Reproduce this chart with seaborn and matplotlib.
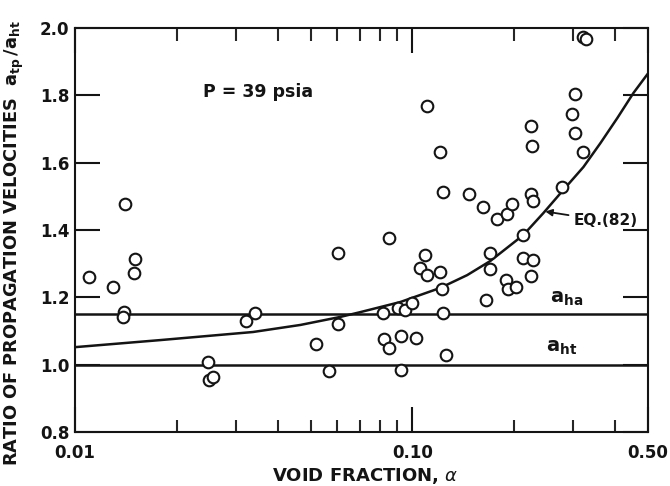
import numpy as np
import pandas as pd
import matplotlib
matplotlib.use("Agg")
import matplotlib.pyplot as plt
from matplotlib.ticker import FixedLocator, FixedFormatter, NullFormatter
import seaborn as sns

# Measured propagation-velocity ratios, P = 39 psia
void_fraction = [
    0.0110, 0.0130, 0.0140, 0.0139, 0.0141, 0.0151, 0.0150,
    0.0248, 0.0250, 0.0257, 0.0322, 0.0342,
    0.0519, 0.0567, 0.0603, 0.0603,
    0.0820, 0.0826, 0.0855, 0.0855, 0.0909, 0.0953, 0.1000, 0.0928, 0.0924, 0.1028,
    0.1093, 0.1056, 0.1108, 0.1211, 0.1228, 0.1237, 0.1262,
    0.1108, 0.1211, 0.1237, 0.1476, 0.1624, 0.1787, 0.1914, 0.1980,
    0.2254, 0.2286, 0.2134, 0.1704, 0.1704, 0.2134, 0.2286,
    0.1900, 0.1925, 0.2035, 0.2254, 0.1658,
    0.2254, 0.2271, 0.2787, 0.3046, 0.2985, 0.3046, 0.3215,
    0.3215, 0.3268,
]
velocity_ratio = [
    1.260, 1.231, 1.156, 1.142, 1.477, 1.314, 1.272,
    1.008, 0.954, 0.963, 1.130, 1.153,
    1.061, 0.981, 1.121, 1.332,
    1.153, 1.076, 1.049, 1.376, 1.168, 1.162, 1.183, 1.085, 0.984, 1.079,
    1.326, 1.287, 1.266, 1.275, 1.225, 1.153, 1.029,
    1.768, 1.632, 1.513, 1.507, 1.468, 1.433, 1.447, 1.477,
    1.507, 1.486, 1.385, 1.332, 1.284, 1.317, 1.311,
    1.251, 1.225, 1.231, 1.263, 1.192,
    1.709, 1.649, 1.528, 1.804, 1.744, 1.688, 1.632,
    1.973, 1.967,
]

# EQ.(82) curve
eq82_alpha = [0.01, 0.0179, 0.0337, 0.0466, 0.0613, 0.0701, 0.0921, 0.1211,
              0.1455, 0.1704, 0.2134, 0.2446, 0.2805, 0.3217, 0.3613, 0.4058,
              0.4527, 0.50]
eq82_ratio = [1.052, 1.073, 1.097, 1.118, 1.142, 1.156, 1.186, 1.228,
              1.266, 1.308, 1.385, 1.450, 1.519, 1.587, 1.658, 1.733,
              1.807, 1.865]

# Reference levels
a_ha_level = 1.15
a_ht_level = 1.00

x_major = [0.01, 0.10, 0.50]
x_major_labels = ["0.01", "0.10", "0.50"]
x_minor = [0.02, 0.03, 0.04, 0.05, 0.06, 0.07, 0.08, 0.09, 0.2, 0.3, 0.4]
y_ticks = [0.8, 1.0, 1.2, 1.4, 1.6, 1.8, 2.0]

sns.set_theme(style="ticks")
plt.rcParams["font.family"] = ["DejaVu Sans"]
plt.rcParams["mathtext.fontset"] = "dejavusans"

ink = "#141414"

points = pd.DataFrame({"alpha": void_fraction, "ratio": velocity_ratio})
curve = pd.DataFrame({"alpha": eq82_alpha, "ratio": eq82_ratio})

fig = plt.figure(figsize=(6.7, 4.86), dpi=100)
ax = fig.add_axes([75 / 670, 1 - 432 / 486, 573 / 670, 404 / 486])

ax.set_xscale("log")
ax.set_xlim(0.01, 0.5)
ax.set_ylim(0.8, 2.0)

ax.axhline(a_ha_level, color=ink, lw=1.8, zorder=2)
ax.axhline(a_ht_level, color=ink, lw=1.8, zorder=2)

sns.lineplot(data=curve, x="alpha", y="ratio", ax=ax, color=ink, lw=1.8,
             zorder=3, sort=True, estimator=None)

sns.scatterplot(data=points, x="alpha", y="ratio", ax=ax, marker="o",
                s=70, facecolor="white", edgecolor=ink, linewidth=1.5,
                zorder=4, clip_on=False, legend=False)

# Axis frame and ticks
for side in ["top", "bottom", "left", "right"]:
    ax.spines[side].set_visible(True)
    ax.spines[side].set_color(ink)
    ax.spines[side].set_linewidth(1.5)

ax.xaxis.set_major_locator(FixedLocator(x_major))
ax.xaxis.set_major_formatter(FixedFormatter(x_major_labels))
ax.xaxis.set_minor_locator(FixedLocator(x_minor))
ax.xaxis.set_minor_formatter(NullFormatter())
ax.set_yticks(y_ticks)
ax.set_yticklabels([f"{v:.1f}" for v in y_ticks])

ax.tick_params(axis="x", which="major", direction="in", length=18, width=1.5,
               top=True, bottom=True, pad=9, labelsize=12, colors=ink)
ax.tick_params(axis="x", which="minor", direction="in", length=9, width=1.5,
               top=True, bottom=True)
ax.tick_params(axis="y", which="major", direction="in", length=18, width=1.5,
               left=True, right=True, pad=4, labelsize=12, colors=ink)
ax.tick_params(axis="y", which="minor", left=False, right=False)
for lbl in ax.get_xticklabels() + ax.get_yticklabels():
    lbl.set_fontweight("bold")

ax.set_xlabel(r"VOID FRACTION, $\alpha$", fontsize=13, color=ink,
              fontweight="bold")
ax.xaxis.set_label_coords(0.506, -0.085)
ax.set_ylabel("")
fig.text(14 / 670, 1 - 243 / 486,
         r"RATIO OF PROPAGATION VELOCITIES  $\mathbf{a_{tp}\,/a_{ht}}$",
         rotation=90, ha="center", va="center", fontsize=12.8,
         fontweight="bold", color=ink)

# Annotations
ax.text(0.024, 1.81, "P = 39 psia", fontsize=12.5, color=ink,
        fontweight="bold", ha="left", va="center")
ax.text(0.2864, 1.198, r"$\mathbf{a_{ha}}$", fontsize=14, color=ink,
        ha="center", va="center")
ax.text(0.278, 1.052, r"$\mathbf{a_{ht}}$", fontsize=14, color=ink,
        ha="center", va="center")
ax.annotate("EQ.(82)", xy=(0.248, 1.455), xytext=(0.300, 1.427),
            fontsize=11, fontweight="bold", color=ink, ha="left", va="center",
            arrowprops=dict(arrowstyle="-|>", color=ink, lw=1.3,
                            mutation_scale=10, shrinkA=1, shrinkB=0))

fig.savefig("out.png", dpi=100)
